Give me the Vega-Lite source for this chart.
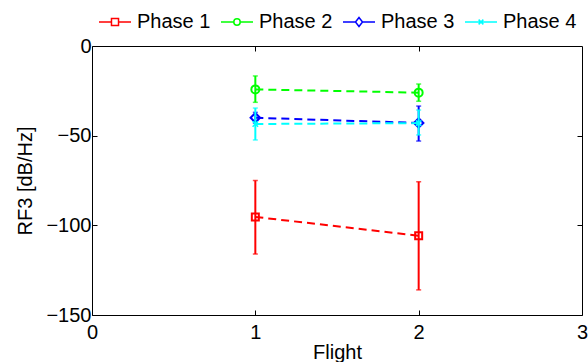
{
  "$schema": "https://vega.github.io/schema/vega-lite/v6.json",
  "width": 490,
  "height": 269,
  "autosize": {"type": "none"},
  "padding": {"left": 92, "top": 46, "right": 6, "bottom": 47},
  "background": "white",
  "config": {
    "font": "Liberation Sans",
    "view": {"stroke": "black", "strokeWidth": 1},
    "axis": {
      "labelFont": "Liberation Sans", "titleFont": "Liberation Sans",
      "labelFontSize": 20, "titleFontSize": 20, "titleFontWeight": "normal",
      "labelColor": "black", "titleColor": "black",
      "domainColor": "black", "tickColor": "black", "grid": false,
      "tickSize": -5, "tickWidth": 1, "labelFlush": false
    }
  },
  "data": {"values": [
    {"phase": "Phase 1", "flight": 1, "mean": -95.3, "lo": -116, "hi": -75},
    {"phase": "Phase 1", "flight": 2, "mean": -105.8, "lo": -136, "hi": -75.7},
    {"phase": "Phase 2", "flight": 1, "mean": -24.2, "lo": -31.4, "hi": -16.7},
    {"phase": "Phase 2", "flight": 2, "mean": -26, "lo": -30.8, "hi": -21.2},
    {"phase": "Phase 3", "flight": 1, "mean": -40, "lo": -43, "hi": -37},
    {"phase": "Phase 3", "flight": 2, "mean": -42.9, "lo": -53, "hi": -33.5},
    {"phase": "Phase 4", "flight": 1, "mean": -43.5, "lo": -52.4, "hi": -34.6},
    {"phase": "Phase 4", "flight": 2, "mean": -43, "lo": -49.6, "hi": -35.7}
  ]},
  "resolve": {"axis": {"x": "independent", "y": "independent"}},
  "layer": [
    {
      "mark": {"type": "point", "opacity": 0},
      "encoding": {
        "x": {"field": "flight", "type": "quantitative", "scale": {"domain": [0, 3], "nice": false},
              "axis": {"orient": "bottom", "values": [0, 1, 2, 3], "format": "d", "title": "Flight", "labelPadding": 12, "titlePadding": 0, "domain": false}},
        "y": {"field": "mean", "type": "quantitative", "scale": {"domain": [-150, 0], "nice": false, "zero": false},
              "axis": {"orient": "left", "values": [-150, -100, -50, 0], "title": "RF3 [dB/Hz]", "labelPadding": 6, "titlePadding": 10, "domain": false}}
      }
    },
    {
      "transform": [{"filter": "datum.phase === 'Phase 1'"}],
      "encoding": {"x": {"field": "flight", "type": "quantitative", "axis": null}},
      "layer": [
        {"mark": {"type": "rule", "strokeWidth": 2, "color": "#ff0000"},
         "encoding": {"y": {"field": "lo", "type": "quantitative", "axis": null}, "y2": {"field": "hi"}}},
        {"mark": {"type": "tick", "orient": "horizontal", "size": 5, "thickness": 1.5, "color": "#ff0000"},
         "encoding": {"y": {"field": "lo", "type": "quantitative", "axis": null}}},
        {"mark": {"type": "tick", "orient": "horizontal", "size": 5, "thickness": 1.5, "color": "#ff0000"},
         "encoding": {"y": {"field": "hi", "type": "quantitative", "axis": null}}},
        {"mark": {"type": "line", "strokeWidth": 2, "strokeDash": [8, 5], "color": "#ff0000"},
         "encoding": {"y": {"field": "mean", "type": "quantitative", "axis": null}}},
        {"mark": {"type": "point", "shape": "square", "filled": false, "size": 49, "strokeWidth": 2, "opacity": 1, "color": "#ff0000"},
         "encoding": {"y": {"field": "mean", "type": "quantitative", "axis": null}}}
      ]
    },
    {
      "transform": [{"filter": "datum.phase === 'Phase 2'"}],
      "encoding": {"x": {"field": "flight", "type": "quantitative", "axis": null}},
      "layer": [
        {"mark": {"type": "rule", "strokeWidth": 2, "color": "#00ff00"},
         "encoding": {"y": {"field": "lo", "type": "quantitative", "axis": null}, "y2": {"field": "hi"}}},
        {"mark": {"type": "tick", "orient": "horizontal", "size": 5, "thickness": 1.5, "color": "#00ff00"},
         "encoding": {"y": {"field": "lo", "type": "quantitative", "axis": null}}},
        {"mark": {"type": "tick", "orient": "horizontal", "size": 5, "thickness": 1.5, "color": "#00ff00"},
         "encoding": {"y": {"field": "hi", "type": "quantitative", "axis": null}}},
        {"mark": {"type": "line", "strokeWidth": 2, "strokeDash": [8, 5], "color": "#00ff00"},
         "encoding": {"y": {"field": "mean", "type": "quantitative", "axis": null}}},
        {"mark": {"type": "point", "shape": "circle", "filled": false, "size": 64, "strokeWidth": 2, "opacity": 1, "color": "#00ff00"},
         "encoding": {"y": {"field": "mean", "type": "quantitative", "axis": null}}}
      ]
    },
    {
      "transform": [{"filter": "datum.phase === 'Phase 3'"}],
      "encoding": {"x": {"field": "flight", "type": "quantitative", "axis": null}},
      "layer": [
        {"mark": {"type": "rule", "strokeWidth": 2, "color": "#0000ff"},
         "encoding": {"y": {"field": "lo", "type": "quantitative", "axis": null}, "y2": {"field": "hi"}}},
        {"mark": {"type": "tick", "orient": "horizontal", "size": 5, "thickness": 1.5, "color": "#0000ff"},
         "encoding": {"y": {"field": "lo", "type": "quantitative", "axis": null}}},
        {"mark": {"type": "tick", "orient": "horizontal", "size": 5, "thickness": 1.5, "color": "#0000ff"},
         "encoding": {"y": {"field": "hi", "type": "quantitative", "axis": null}}},
        {"mark": {"type": "line", "strokeWidth": 2, "strokeDash": [8, 5], "color": "#0000ff"},
         "encoding": {"y": {"field": "mean", "type": "quantitative", "axis": null}}},
        {"mark": {"type": "point", "shape": "diamond", "filled": false, "size": 90, "strokeWidth": 2, "opacity": 1, "color": "#0000ff"},
         "encoding": {"y": {"field": "mean", "type": "quantitative", "axis": null}}}
      ]
    },
    {
      "transform": [{"filter": "datum.phase === 'Phase 4'"}],
      "encoding": {"x": {"field": "flight", "type": "quantitative", "axis": null}},
      "layer": [
        {"mark": {"type": "rule", "strokeWidth": 2, "color": "#00ffff"},
         "encoding": {"y": {"field": "lo", "type": "quantitative", "axis": null}, "y2": {"field": "hi"}}},
        {"mark": {"type": "tick", "orient": "horizontal", "size": 5, "thickness": 1.5, "color": "#00ffff"},
         "encoding": {"y": {"field": "lo", "type": "quantitative", "axis": null}}},
        {"mark": {"type": "tick", "orient": "horizontal", "size": 5, "thickness": 1.5, "color": "#00ffff"},
         "encoding": {"y": {"field": "hi", "type": "quantitative", "axis": null}}},
        {"mark": {"type": "line", "strokeWidth": 2, "strokeDash": [8, 5], "color": "#00ffff"},
         "encoding": {"y": {"field": "mean", "type": "quantitative", "axis": null}}},
        {"mark": {"type": "point", "shape": "M-1,-1L1,1M-1,1L1,-1", "filled": false, "size": 30, "strokeWidth": 1.5, "opacity": 1, "color": "#00ffff"},
         "encoding": {"y": {"field": "mean", "type": "quantitative", "axis": null}}}
      ]
    },
    {
      "mark": {"type": "point", "filled": false, "opacity": 0},
      "encoding": {
        "x": {"field": "flight", "type": "quantitative",
              "axis": {"orient": "top", "values": [1, 2], "labels": false, "title": null, "domain": false}},
        "y": {"field": "mean", "type": "quantitative",
              "axis": {"orient": "right", "values": [-100, -50], "labels": false, "title": null, "domain": false}},
        "color": {"field": "phase", "type": "nominal",
                  "scale": {"domain": ["Phase 1", "Phase 2", "Phase 3", "Phase 4"], "range": ["#ff0000", "#00ff00", "#0000ff", "#00ffff"]},
                  "legend": {"orient": "none", "legendX": 6, "legendY": -41, "direction": "horizontal", "title": null,
                             "symbolSize": 1024, "symbolStrokeWidth": 1.5, "symbolOpacity": 1,
                             "labelFont": "Liberation Sans", "labelFontSize": 20, "labelColor": "black", "labelOffset": 5,
                             "columnPadding": 7, "labelLimit": 200, "padding": 0}},
        "shape": {"field": "phase", "type": "nominal",
                  "scale": {"domain": ["Phase 1", "Phase 2", "Phase 3", "Phase 4"],
                            "range": ["M-1,0H-0.22M0.22,0H1M-0.22,-0.22H0.22V0.22H-0.22Z",
                                      "M-1,0H-0.2M0.2,0H1M0.2,0A0.2,0.2,0,1,1,-0.2,0A0.2,0.2,0,1,1,0.2,0",
                                      "M-1,0H-0.22M0.22,0H1M-0.22,0L0,-0.28L0.22,0L0,0.28Z",
                                      "M-1,0H1M-0.15,-0.15L0.15,0.15M-0.15,0.15L0.15,-0.15"]},
                  "legend": {"orient": "none", "legendX": 6, "legendY": -41, "direction": "horizontal", "title": null,
                             "symbolSize": 1024, "symbolStrokeWidth": 1.5, "symbolOpacity": 1,
                             "labelFont": "Liberation Sans", "labelFontSize": 20, "labelColor": "black", "labelOffset": 5,
                             "columnPadding": 7, "labelLimit": 200, "padding": 0}}
      }
    }
  ]
}
